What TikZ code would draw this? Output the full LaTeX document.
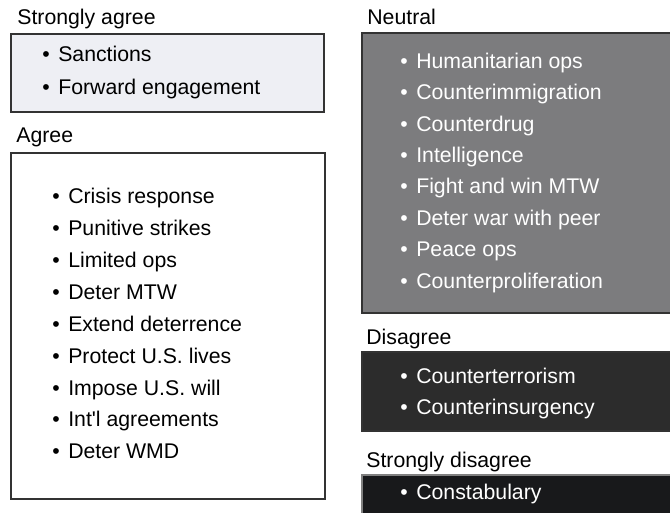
\documentclass[tikz,border=0pt]{standalone}
\usepackage{fontspec}
\setmainfont{Liberation Sans}

\definecolor{boxline}{HTML}{333333}
\definecolor{lightfill}{HTML}{EEEFF4}
\definecolor{neutralfill}{HTML}{7C7C7E}
\definecolor{disfill}{HTML}{2C2C2C}
\definecolor{sdisfill}{HTML}{18191B}

\newcommand{\bul}{\textbullet\hspace{0.4em}}

\tikzset{
    box/.style={draw=boxline, line width=0.03cm},
    heading/.style={anchor=west, inner sep=0pt, text height=0.72em, text depth=0pt},
    item/.style={heading},
}

\begin{document}
\begin{tikzpicture}[x=0.02cm, y=-0.02cm, font=\fontsize{12.1}{14}\selectfont]
    \useasboundingbox (0,0) rectangle (670,513);

    % Left column boxes
    \draw[box, fill=lightfill] (11,34) rectangle (324,112);
    \draw[box, fill=white] (11,153) rectangle (325,499);

    % Right column boxes (run off the page edge)
    \draw[box, fill=neutralfill] (362,33) rectangle (675,313);
    \draw[box, fill=disfill] (362,352) rectangle (675,431);
    \draw[box, draw=gray, fill=sdisfill] (362,475) rectangle (675,520);

    % Headings
    \node[heading] (hsagree) at (17,18) {Strongly agree};
    \node[heading] (hagree) at (16,136) {Agree};
    \node[heading] (hneutral) at (367,18) {Neutral};
    \node[heading] (hdis) at (366,338) {Disagree};
    \node[heading] (hsdis) at (366,461) {Strongly disagree};

    % Strongly agree items
    \foreach \i/\y/\t in {1/55/Sanctions, 2/88/Forward engagement} {
        \node[item] (sagree-\i) at (42,\y) {\bul\t};
    }

    % Agree items
    \foreach \t [count=\i] in {Crisis response, Punitive strikes, Limited ops, Deter MTW,
                               Extend deterrence, Protect U.S. lives, Impose U.S. will,
                               Int\textquotesingle l agreements, Deter WMD} {
        \node[item] (agree-\i) at (52,{197+31.95*(\i-1)}) {\bul\t};
    }

    % Neutral items
    \foreach \t [count=\i] in {Humanitarian ops, Counterimmigration, Counterdrug, Intelligence,
                               Fight and win MTW, Deter war with peer, Peace ops,
                               Counterproliferation} {
        \node[item, text=white] (neutral-\i) at (400,{62+31.4*(\i-1)}) {\bul\t};
    }

    % Disagree items
    \foreach \i/\y/\t in {1/377/Counterterrorism, 2/408/Counterinsurgency} {
        \node[item, text=white] (dis-\i) at (400,\y) {\bul\t};
    }

    % Strongly disagree items
    \node[item, text=white] (sdis-1) at (400,493) {\bul Constabulary};
\end{tikzpicture}
\end{document}
